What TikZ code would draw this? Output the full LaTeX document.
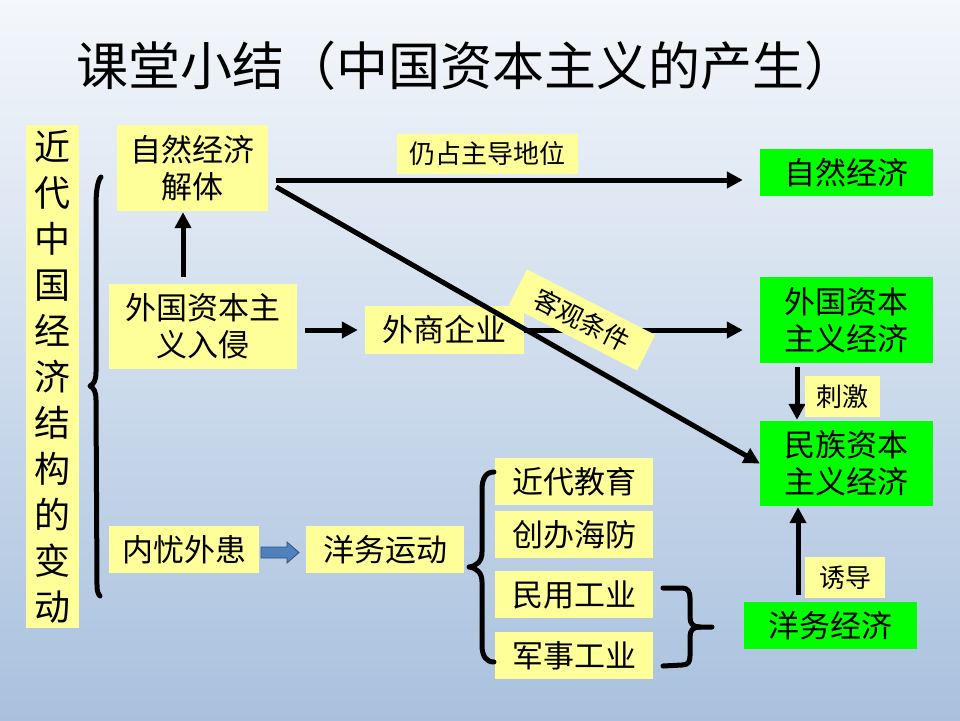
\documentclass[tikz,border=0pt]{standalone}
\usepackage{fontspec}
\setmainfont{Noto Sans CJK SC}
\usetikzlibrary{arrows.meta}
\definecolor{ybox}{HTML}{FFFF99}
\definecolor{gbox}{HTML}{00FF00}
\definecolor{bgtop}{HTML}{F4F7FB}
\definecolor{bgbot}{HTML}{A9C1DE}
\definecolor{barrow}{HTML}{4F81BD}
\definecolor{barrowline}{HTML}{2F4F7F}
\begin{document}
\begin{tikzpicture}[x=1pt,y=-1pt,
  ybx/.style={fill=ybox, inner sep=0pt, align=center, font=\fontsize{31}{37}\selectfont},
  gbx/.style={fill=gbox, inner sep=0pt, align=center, font=\fontsize{31}{37}\selectfont},
  lbl/.style={fill=ybox, inner sep=0pt, font=\fontsize{26}{30}\selectfont},
  arr/.style={line width=5pt, -{Triangle[length=16pt,width=16pt]}},
  brc/.style={line width=5pt, line cap=round, line join=round}]
\useasboundingbox (0,0) rectangle (960,720);
\shade[top color=bgtop, bottom color=bgbot] (0,0) rectangle (960,720);

% title
\node[font=\fontsize{52}{60}\selectfont] (title) at (466,66) {课堂小结（中国资本主义的产生）};

% vertical box
\node[fill=ybox, minimum width=53pt, minimum height=503pt, inner sep=0pt, align=center,
      font=\fontsize{36}{46}\selectfont] (vt) at (52.5,376.5)
      {近\\代\\中\\国\\经\\济\\结\\构\\的\\变\\动};

% yellow boxes
\node[ybx, minimum width=151pt, minimum height=86pt] (zj) at (192.5,168) {自然经济\\解体};
\node[ybx, minimum width=188pt, minimum height=85pt] (wq) at (203,326.5) {外国资本主\\义入侵};
\node[ybx, minimum width=159pt, minimum height=48pt] (ws) at (444.5,330) {外商企业};
\node[ybx, minimum width=150pt, minimum height=47pt] (nw) at (184,549.5) {内忧外患};
\node[ybx, minimum width=158pt, minimum height=47pt] (yy) at (385,549.5) {洋务运动};
\node[ybx, minimum width=158pt, minimum height=47pt] (jd) at (574,481.5) {近代教育};
\node[ybx, minimum width=158pt, minimum height=47pt] (cb) at (574,534.5) {创办海防};
\node[ybx, minimum width=158pt, minimum height=47pt] (my) at (574,594.5) {民用工业};
\node[ybx, minimum width=158pt, minimum height=47pt] (js) at (574,655.5) {军事工业};

% green boxes
\node[gbx, minimum width=173pt, minimum height=47pt] (zr) at (846.5,172.5) {自然经济};
\node[gbx, minimum width=173pt, minimum height=86pt] (wg) at (846.5,320) {外国资本\\主义经济};
\node[gbx, minimum width=173pt, minimum height=85pt] (mz) at (846.5,463.5) {民族资本\\主义经济};
\node[gbx, minimum width=173pt, minimum height=47pt] (yw) at (830.5,625.5) {洋务经济};

% arrows
\draw[arr, shorten <=7pt, shorten >=1pt] ([xshift=-9.5pt]zj.south |- wq.north) -- ([xshift=-9.5pt]zj.south);
\draw[arr, shorten <=8pt, shorten >=7pt] (wq.east |- ws.west) -- (ws.west);
\draw[arr, shorten >=17pt] (ws.east) -- (ws.east -| wg.west);
\draw[arr, shorten <=8pt, shorten >=17pt] ([yshift=-12pt]zj.east) -- ([yshift=-12pt]zj.east -| zr.west);
\draw[arr] ([xshift=8pt,yshift=-19pt]zj.east) -- (mz.west);
\draw[arr, shorten <=4pt, shorten >=1pt] ([xshift=-49.5pt]wg.south) -- ([xshift=-49.5pt]mz.north);
\draw[arr, shorten <=7pt, shorten >=1pt] ([xshift=-48.5pt]mz.south |- yw.north) -- ([xshift=-48.5pt]mz.south);

% labels
\node[lbl, minimum width=181pt, minimum height=40pt] (l1) at (487.5,154) {仍占主导地位};
\node[lbl, minimum width=144pt, minimum height=40pt, rotate=-27] (l2) at (582,320) {客观条件};
\node[lbl, minimum width=75pt, minimum height=41pt] (l3) at (842.5,396.5) {刺激};
\node[lbl, minimum width=80pt, minimum height=41pt] (l4) at (845,577.5) {诱导};

% block arrow
\draw[fill=barrow, draw=barrowline, line width=0.8pt]
  (261,547) -- (287,547) -- (287,542) -- (299,552.5) -- (287,563) -- (287,558) -- (261,558) -- cycle;

% braces
\draw[brc] (101,177) .. controls (98,180) and (96,190) .. (96,205) -- (96,372)
  .. controls (96,380) and (94,384) .. (90,386) .. controls (94,388) and (96,392) .. (96,400)
  -- (97,585) .. controls (97,591) and (98,594) .. (100,596);
\draw[brc] (494,472) .. controls (486,472) and (482,478) .. (482,490) -- (482,552)
  .. controls (482,561) and (477,566) .. (469,567) .. controls (477,568) and (482,573) .. (482,582)
  -- (482,645) .. controls (482,656) and (486,662) .. (494,662);
\draw[brc] (663,588) -- (682,588) .. controls (688,588) and (690,592) .. (690,598) -- (690,617)
  .. controls (690,624) and (693,627) .. (700,627) -- (712,627);
\draw[brc] (700,627) .. controls (693,627) and (690,630) .. (690,637) -- (690,656)
  .. controls (690,662) and (688,665) .. (682,665) -- (663,666);
\end{tikzpicture}
\end{document}
